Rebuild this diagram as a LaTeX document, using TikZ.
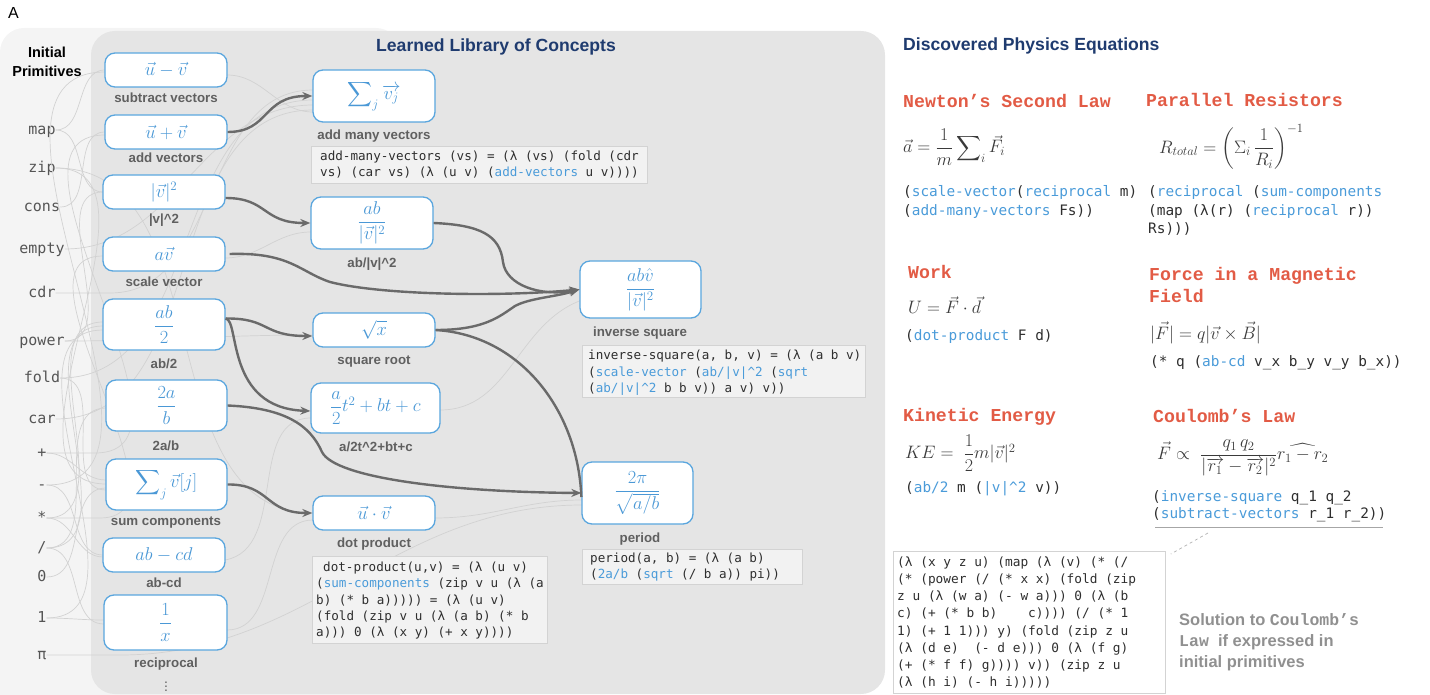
\RequirePackage{fix-cm}
\documentclass[tikz,border=0pt]{standalone}
\usepackage{amsmath}
\usepackage[no-math]{fontspec}
\setmainfont{Liberation Sans}
\newfontfamily\monofont{DejaVu Sans Mono}
\newfontfamily\courfont{Liberation Mono}
\usetikzlibrary{arrows.meta}
\definecolor{boxblue}{HTML}{5AA6DE}
\definecolor{mathblue}{HTML}{4A98D6}
\definecolor{panelA}{HTML}{F4F4F4}
\definecolor{panelB}{HTML}{E5E5E5}
\definecolor{lblgray}{HTML}{606060}
\definecolor{primgray}{HTML}{555555}
\definecolor{arrowgray}{HTML}{6A6A6A}
\definecolor{thingray}{HTML}{D2D2D2}
\definecolor{titleblue}{HTML}{1F3B6F}
\definecolor{eqred}{HTML}{E25B45}
\definecolor{codebg}{HTML}{F2F2F2}
\definecolor{codeborder}{HTML}{D3D3D3}
\definecolor{kwblue}{HTML}{4A9BD9}
\definecolor{codetext}{HTML}{2E2E2E}
\definecolor{eqgray}{HTML}{3A3A3A}
\definecolor{solgray}{HTML}{909090}
\newcommand{\kwd}[1]{\textcolor{kwblue}{#1}}
\newcommand{\crt}{\textasciicircum}
\tikzset{
  concept/.style={draw=boxblue, line width=1.3pt, fill=white, rounded corners=10pt, inner sep=0pt, text=mathblue, font=\fontsize{18.5}{21}\selectfont},
  lbl/.style={text=lblgray, font=\bfseries\fontsize{13.3}{15}\selectfont, inner sep=0pt},
  prim/.style={text=primgray, font=\monofont\fontsize{15}{18}\selectfont, inner sep=0pt, text height=8.2pt, text depth=0pt},
  codeS/.style={anchor=west, inner sep=0pt, text=codetext, font=\monofont\fontsize{12.6}{15}\selectfont, text height=7pt, text depth=0pt},
  codeR/.style={anchor=west, inner sep=0pt, text=codetext, font=\monofont\fontsize{14.4}{17}\selectfont, text height=8pt, text depth=0pt},
  codeB/.style={anchor=west, inner sep=0pt, text=codetext, font=\monofont\fontsize{12.8}{15}\selectfont, text height=7.1pt, text depth=0pt},
  head/.style={anchor=west, inner sep=0pt, text=eqred, font=\courfont\bfseries\fontsize{18.2}{20}\selectfont, text height=10.5pt, text depth=0pt},
  eq/.style={anchor=west, inner sep=0pt, text=eqgray, font=\fontsize{18}{21}\selectfont},
  cbox/.style={draw=codeborder, line width=0.8pt, fill=codebg, inner sep=0pt, anchor=north west},
  dark/.style={draw=arrowgray, line width=2.4pt, -{Stealth[length=10pt,width=8pt]}},
  darknt/.style={draw=arrowgray, line width=2.4pt},
  thinln/.style={draw=thingray, line width=0.7pt},
  ttl/.style={text=titleblue, font=\bfseries\fontsize{17.6}{20}\selectfont, inner sep=0pt},
  sol/.style={anchor=west, inner sep=0pt, text=solgray, font=\bfseries\fontsize{16.5}{19}\selectfont, text height=12pt, text depth=0pt}
}
\begin{document}
\begin{tikzpicture}[x=1pt,y=-1pt]
\useasboundingbox (0,0) rectangle (1430,695);
\begin{scope}
\clip (0,0) rectangle (1430,695);
\fill[panelA, rounded corners=24pt] (0,28) rectangle (400,730);
\fill[panelB, rounded corners=24pt] (91,31) rectangle (885,694);
\end{scope}
\node[anchor=west, inner sep=0pt, font=\fontsize{16}{18}\selectfont] (lettera) at (8,13) {A};

% primitives
\node[inner sep=0pt, align=center, font=\bfseries\fontsize{14.5}{19}\selectfont] (primt) at (47,62) {Initial\\Primitives};
\node[prim] (pmap) at (42,130) {map};
\node[prim] (pzip) at (42,168) {zip};
\node[prim] (pcons) at (42,207) {cons};
\node[prim] (pempty) at (42,249) {empty};
\node[prim] (pcdr) at (42,293) {cdr};
\node[prim] (ppower) at (42,341) {power};
\node[prim] (pfold) at (42,378) {fold};
\node[prim] (pcar) at (42,419) {car};
\node[prim] (pplus) at (42,453) {+};
\node[prim] (pminus) at (42,485) {-};
\node[prim] (pstar) at (42,518) {*};
\node[prim] (pslash) at (42,548) {/};
\node[prim] (pzero) at (42,577) {0};
\node[prim] (pone) at (42,618) {1};
\node[prim] (ppi) at (42,655) {π};

\path
 (166,70) coordinate (c1) (166,132) coordinate (c2) (164,192) coordinate (c3)
 (164,254) coordinate (c4) (164,324.5) coordinate (c5) (166.5,405.5) coordinate (c6)
 (166.5,484.5) coordinate (c7) (164,555) coordinate (c8) (165.5,622.5) coordinate (c9);

% thin background connectors
\begin{scope}[thinln]
\draw (pmap.east) to[out=0,in=180] (105,70);
\draw (pmap.east) to[out=0,in=180] (103,192);
\draw (pzip.east) to[out=0,in=180] (106,484);
\draw (pzip.east) to[out=0,in=180] (313,513);
\draw (pcons.east) to[out=0,in=180] (105,132);
\draw (pempty.east) to[out=0,in=180] (313,105);
\draw (pcdr.east) -- (110,293) to[out=0,in=180] (313,90);
\draw (ppower.east) to[out=0,in=180] (103,192);
\draw (ppower.east) to[out=0,in=180] (313,335);
\draw (pfold.east) to[out=0,in=180] (106,490);
\draw (pfold.east) to[out=0,in=180] (313,100);
\draw (pcar.east) to[out=0,in=180] (313,110);
\draw (pplus.east) -- (95,453) to[out=0,in=180] (105,135);
\draw (pplus.east) to[out=0,in=180] (106,480);
\draw (pminus.east) to[out=0,in=180] (105,72);
\draw (pminus.east) to[out=0,in=180] (103,555);
\draw (pstar.east) -- (100,518) to[out=0,in=180] (103,256);
\draw (pstar.east) to[out=0,in=180] (103,322);
\draw (pstar.east) to[out=0,in=180] (103,557);
\draw (pslash.east) to[out=0,in=180] (103,326);
\draw (pslash.east) to[out=0,in=180] (106,408);
\draw (pslash.east) to[out=0,in=180] (104,624);
\draw (pzero.east) to[out=0,in=180] (106,488);
\draw (pone.east) to[out=0,in=180] (104,620);
\draw (pone.east) to[out=0,in=180] (103,330);
\draw (ppi.east) -- (120,655) to[out=0,in=180] (582,505);
\draw (227,75) to[out=0,in=180] (313,112);
\draw (225,258) to[out=0,in=180] (311,232);
\draw (227,630) to[out=0,in=180] (313,520);
\draw (435,518) to[out=0,in=180] (582,500);
\draw (225,560) to[out=10,in=180] (311,418);
\draw (440,410) to[out=0,in=200] (582,300);
\end{scope}

% code boxes
\node[cbox, minimum width=336pt, minimum height=37pt] (cb1) at (311,146) {};
\node[codeS] (cb1a) at (320,157) {add-many-vectors (vs) = (λ (vs) (fold (cdr};
\node[codeS] (cb1b) at (320,173) {vs) (car vs) (λ (u v) (\kwd{add-vectors} u v))))};

\node[cbox, minimum width=235pt, minimum height=87pt] (cb2) at (312,556) {};
\node[codeS] (cb2a) at (323,568) {dot-product(u,v) = (λ (u v)};
\node[codeS] (cb2b) at (316,584) {(\kwd{sum-components} (zip v u (λ (a};
\node[codeS] (cb2c) at (316,601) {b) (* b a))))) = (λ (u v)};
\node[codeS] (cb2d) at (316,617) {(fold (zip v u (λ (a b) (* b};
\node[codeS] (cb2e) at (316,633) {a))) 0 (λ (x y) (+ x y))))};

\node[cbox, minimum width=283pt, minimum height=52pt] (cb3) at (582,345) {};
\node[codeS] (cb3a) at (588,356) {inverse-square(a, b, v) = (λ (a b v)};
\node[codeS] (cb3b) at (588,373) {(\kwd{scale-vector} (\kwd{ab/|v|\crt 2} (\kwd{sqrt}};
\node[codeS] (cb3c) at (588,389) {(\kwd{ab/|v|\crt 2} b b v)) a v) v))};

\node[cbox, minimum width=220pt, minimum height=35pt] (cb4) at (582,549) {};
\node[codeS] (cb4a) at (590,559) {period(a, b) = (λ (a b)};
\node[codeS] (cb4b) at (590,575) {(\kwd{2a/b} (\kwd{sqrt} (/ b a)) pi))};

% concept boxes
\node[concept, minimum width=122pt, minimum height=34pt] (b1) at (c1) {$\vec{u}-\vec{v}$};
\node[concept, minimum width=122pt, minimum height=34pt] (b2) at (c2) {$\vec{u}+\vec{v}$};
\node[concept, minimum width=122pt, minimum height=34pt] (b3) at (c3) {$|\vec{v}|^2$};
\node[concept, minimum width=122pt, minimum height=34pt] (b4) at (c4) {$a\vec{v}$};
\node[concept, minimum width=122pt, minimum height=51pt] (b5) at (c5) {$\dfrac{ab}{2}$};
\node[concept, minimum width=121pt, minimum height=51pt] (b6) at (c6) {$\dfrac{2a}{b}$};
\node[concept, minimum width=121pt, minimum height=51pt] (b7) at (c7) {$\displaystyle\sum\nolimits_j\vec{v}[j]$};
\node[concept, minimum width=122pt, minimum height=34pt] (b8) at (c8) {$ab-cd$};
\node[concept, minimum width=123pt, minimum height=55pt] (b9) at (c9) {$\dfrac{1}{x}$};

\node[concept, minimum width=122pt, minimum height=52pt] (m1) at (374,96) {$\displaystyle\sum\nolimits_j\overrightarrow{v_j}$};
\node[concept, minimum width=122pt, minimum height=52pt] (m2) at (372,223) {$\dfrac{ab}{|\vec{v}|^2}$};
\node[concept, minimum width=122pt, minimum height=34pt] (m3) at (374,330) {$\sqrt{x}$};
\node[concept, minimum width=129pt, minimum height=50pt] (m4) at (375.5,408) {$\dfrac{a}{2}t^2+bt+c$};
\node[concept, minimum width=122pt, minimum height=34pt] (m5) at (374,513) {$\vec{u}\cdot\vec{v}$};
\node[concept, minimum width=121pt, minimum height=57pt] (r1) at (640.5,289.5) {$\dfrac{ab\hat{v}}{|\vec{v}|^2}$};
\node[concept, minimum width=111pt, minimum height=62pt] (r2) at (637.5,493) {$\dfrac{2\pi}{\sqrt{a/b}}$};

% labels
\node[lbl] (l1) at (166,98) {subtract vectors};
\node[lbl] (l2) at (166,158) {add vectors};
\node[lbl] (l3) at (164,220) {|v|\crt 2};
\node[lbl] (l4) at (164,282) {scale vector};
\node[lbl] (l5) at (164,364) {ab/2};
\node[lbl] (l6) at (166,446) {2a/b};
\node[lbl] (l7) at (166,523) {sum components};
\node[lbl] (l8) at (164,583) {ab-cd};
\node[lbl] (l9) at (166,664) {reciprocal};
\node[inner sep=0pt, text=lblgray, font=\fontsize{14}{16}\selectfont] (ldots) at (166,684) {$\vdots$};
\node[lbl] (lm1) at (374,136) {add many vectors};
\node[lbl] (lm2) at (372,264) {ab/|v|\crt 2};
\node[lbl] (lm3) at (374,362) {square root};
\node[lbl] (lm4) at (376,447) {a/2t\crt 2+bt+c};
\node[lbl] (lm5) at (374,544) {dot product};
\node[lbl] (lr1) at (640,333) {inverse square};
\node[lbl] (lr2) at (640,539) {period};

% titles
\node[ttl] (t1) at (496,47) {Learned Library of Concepts};
\node[ttl, anchor=west] (t2) at (903,46) {Discovered Physics Equations};

% dark arrows
\draw[dark] (b2.east) .. controls (270,132) and (262,96) .. (m1.west);
\draw[dark] ([yshift=-6pt]b3.east) .. controls (268,198) and (262,223) .. (m2.west);
\draw[dark] ([xshift=4pt]b4.east) .. controls (290,252) and (300,272) .. (330,282) .. controls (380,295) and (500,297) .. (r1.west);
\draw[dark] (m2.east) .. controls (480,225) and (500,235) .. (503,262) .. controls (506,285) and (540,297) .. (r1.west);
\draw[dark] (m3.east) .. controls (485,330) and (500,316) .. (515,306) .. controls (530,298) and (555,297) .. (r1.west);
\draw[darknt] (m3.east) .. controls (520,335) and (578,410) .. ([yshift=-4pt]r2.west);
\draw[dark] ([yshift=6pt]b5.east) .. controls (270,318) and (262,336) .. ([yshift=-6pt]m3.west);
\draw[dark] ([yshift=6pt]b5.east) .. controls (240,320) and (225,408) .. ([yshift=-3pt]m4.west);
\draw[dark] (b6.east) .. controls (285,408) and (310,425) .. (322,452) .. controls (335,478) and (450,492) .. (r2.west);
\draw[dark] (b7.east) .. controls (270,484) and (265,513) .. (m5.west);

% right side
\node[head] (hN) at (903,102) {Newton’s Second Law};
\node[head] (hP) at (1146,101) {Parallel Resistors};
\node[eq] (eN) at (903,147) {$\vec{a}=\dfrac{1}{m}\displaystyle\sum\nolimits_i\vec{F}_i$};
\node[eq] (eP) at (1159,147) {$R_{total}=\left(\Sigma_i\,\dfrac{1}{R_i}\right)^{-1}$};
\node[codeR] (cN1) at (903,193) {(\kwd{scale-vector}(\kwd{reciprocal} m)};
\node[codeR] (cN2) at (903,212) {(\kwd{add-many-vectors} Fs))};
\node[codeR] (cP1) at (1148,193) {(\kwd{reciprocal} (\kwd{sum-components}};
\node[codeR] (cP2) at (1148,212) {(map (λ(r) (\kwd{reciprocal} r))};
\node[codeR] (cP3) at (1148,230) {Rs)))};

\node[head] (hW) at (908,273) {Work};
\node[eq] (eW) at (908,305) {$U=\vec{F}\cdot\vec{d}$};
\node[codeR] (cW) at (905,336) {(\kwd{dot-product} F d)};
\node[head] (hF1) at (1149,275) {Force in a Magnetic};
\node[head] (hF2) at (1149,297) {Field};
\node[eq] (eF) at (1150,333) {$|\vec{F}|=q|\vec{v}\times\vec{B}|$};
\node[codeR] (cF) at (1150,362) {(* q (\kwd{ab-cd} v\_x b\_y v\_y b\_x))};

\node[head] (hK) at (903,416) {Kinetic Energy};
\node[eq] (eK) at (905,453) {$KE=\;\dfrac{1}{2}m|\vec{v}|^2$};
\node[codeR] (cK) at (905,488) {(\kwd{ab/2} m (\kwd{|v|\crt 2} v))};
\node[head] (hC) at (1153,417) {Coulomb’s Law};
\node[eq] (eC) at (1157,458) {$\vec{F}\propto\;\dfrac{q_1\,q_2}{|\overrightarrow{r_1}-\overrightarrow{r_2}|^2}\widehat{r_1-r_2}$};
\node[codeR] (cC1) at (1152,497) {(\kwd{inverse-square} q\_1 q\_2};
\node[codeR] (cC2) at (1152,514) {(\kwd{subtract-vectors} r\_1 r\_2))};
\coordinate (ulA) at (1155,527);
\coordinate (ulB) at (1383,527);
\draw[draw=gray!70, line width=0.9pt] (ulA) -- (ulB);
\coordinate (dashA) at (1208,533);

\node[cbox, fill=white, draw=codeborder, minimum width=272pt, minimum height=142pt] (cb5) at (893,551) {};
\node[codeB] (k1) at (897,563) {(λ (x y z u) (map (λ (v) (* (/};
\node[codeB] (k2) at (897,580.1) {(* (power (/ (* x x) (fold (zip};
\node[codeB] (k3) at (897,597.3) {z u (λ (w a) (- w a))) 0 (λ (b};
\node[codeB] (k4) at (897,614.4) {c) (+ (* b b)\ \ \ \ c)))) (/ (* 1};
\node[codeB] (k5) at (897,631.6) {1) (+ 1 1))) y) (fold (zip z u};
\node[codeB] (k6) at (897,648.7) {(λ (d e)\ \ (- d e))) 0 (λ (f g)};
\node[codeB] (k7) at (897,665.9) {(+ (* f f) g)))) v)) (zip z u};
\node[codeB] (k8) at (897,683) {(λ (h i) (- h i)))))};
\draw[draw=gray!60, line width=0.7pt, dashed] (dashA) -- ([xshift=5pt,yshift=-3pt]cb5.north east);

\node[sol] (s1) at (1179,619) {Solution to {\courfont Coulomb’s}};
\node[sol] (s2) at (1179,640) {{\courfont Law} \ if expressed in};
\node[sol] (s3) at (1179,661) {initial primitives};
\end{tikzpicture}
\end{document}
